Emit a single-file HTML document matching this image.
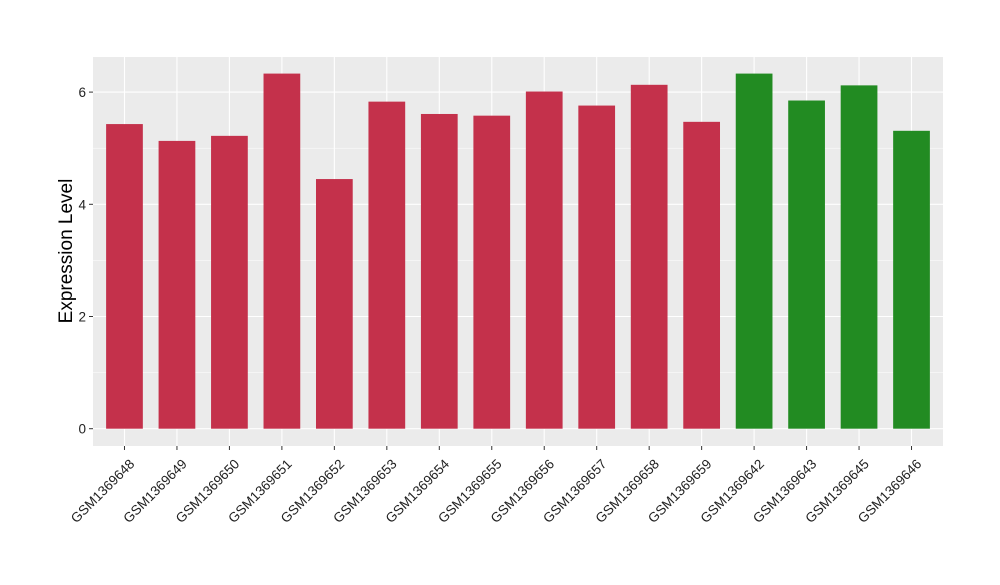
<!DOCTYPE html>
<html><head><meta charset="utf-8"><style>
body{margin:0;background:#fff;}
svg text{font-family:"Liberation Sans",Arial,sans-serif;}
</style></head><body>
<svg id="chart" width="1000" height="580" xmlns="http://www.w3.org/2000/svg">
<rect x="93" y="57" width="850" height="389" fill="#ebebeb"/>
<g id="grid"></g><g id="bars"></g><g id="axes"></g>
<text transform="translate(72,251) rotate(-90)" text-anchor="middle" font-size="19" fill="#000">Expression Level</text>
</svg>
<script>
const categories=["GSM1369648","GSM1369649","GSM1369650","GSM1369651","GSM1369652","GSM1369653","GSM1369654","GSM1369655","GSM1369656","GSM1369657","GSM1369658","GSM1369659","GSM1369642","GSM1369643","GSM1369645","GSM1369646"];
const values=[5.43,5.13,5.22,6.33,4.45,5.83,5.61,5.58,6.01,5.76,6.13,5.47,6.33,5.85,6.12,5.31];
const groups=["a","a","a","a","a","a","a","a","a","a","a","a","b","b","b","b"];
const yTicks=[0,2,4,6];
const colors={a:"#c4314b",b:"#228b22"};
const NS="http://www.w3.org/2000/svg";
const pl=93,pr=943,y0=428.7,yScale=56.1;
const step=(pr-pl)/(categories.length-1+1.2);
const x=i=>pl+step*(0.6+i);
const y=v=>y0-v*yScale;
function mk(t,a,p){const e=document.createElementNS(NS,t);for(const k in a)e.setAttribute(k,a[k]);p.appendChild(e);return e;}
const grid=document.getElementById('grid'),bars=document.getElementById('bars'),axes=document.getElementById('axes');
for(let v=-1;v<=6.5;v+=1){const yy=y(v);if(yy<57||yy>446)continue;const major=v%2===0;
const l=mk('line',{x1:pl,x2:pr,y1:yy,y2:yy,stroke:'#fff','stroke-width':major?1.1:0.5},grid);

}
categories.forEach((c,i)=>{const g=mk('line',{x1:x(i),x2:x(i),y1:57,y2:446,stroke:'#fff','stroke-width':1.1},grid);


const bw=step*0.7;
const r=mk('rect',{x:x(i)-bw/2,y:y(values[i]),width:bw,height:y(0)-y(values[i]),fill:colors[groups[i]]},bars);


const t=mk('line',{x1:x(i),x2:x(i),y1:446,y2:450,stroke:'#333'},axes);


const lb=mk('text',{transform:`translate(${x(i)+4},${458}) rotate(-45)`,'text-anchor':'end','font-size':13.5,fill:'#222','dominant-baseline':'hanging'},axes);
lb.textContent=c;

});
yTicks.forEach(v=>{const t=mk('line',{x1:89,x2:93,y1:y(v),y2:y(v),stroke:'#333'},axes);


const lb=mk('text',{x:86,y:y(v)+5,'text-anchor':'end','font-size':13.5,fill:'#222'},axes);
lb.textContent=v;

});
</script>
</body></html>
